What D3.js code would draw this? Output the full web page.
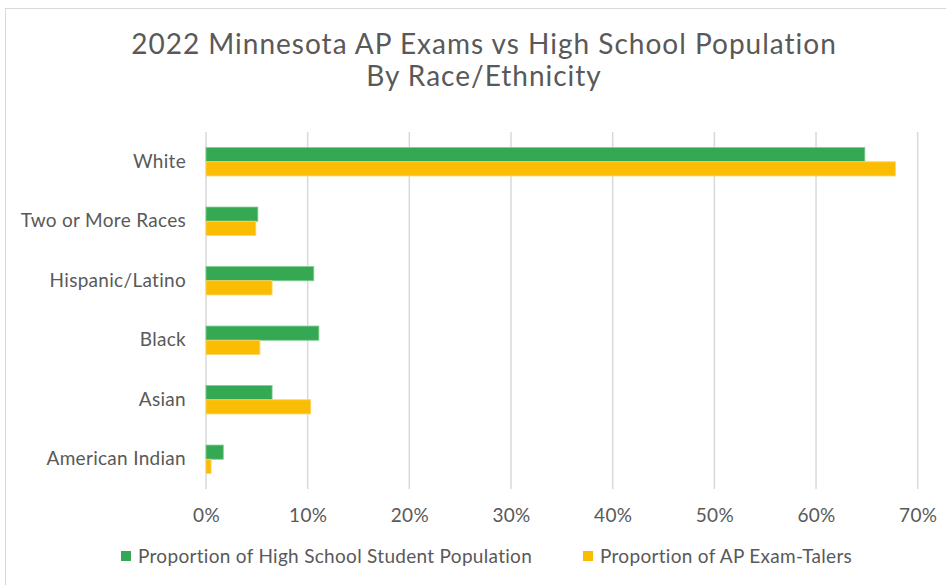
<!DOCTYPE html>
<html>
<head>
<meta charset="utf-8">
<script src="https://cdn.jsdelivr.net/npm/d3@7"></script>
<style>
  body { margin: 0; background: #fff; }
  svg text { font-family: Lato, "Open Sans", sans-serif; fill: #595959; }
</style>
</head>
<body>
<div id="chart"></div>
<script>
// categories, top to bottom
const categories = ['White', 'Two or More Races', 'Hispanic/Latino', 'Black', 'Asian', 'American Indian']
// percent values
const hsPopulation = [64.8, 5.1, 10.6, 11.1, 6.5, 1.7]
const apTakers = [67.8, 4.9, 6.5, 5.3, 10.3, 0.5]
const xTicks = [0, 10, 20, 30, 40, 50, 60, 70]
const seriesNames = ['Proportion of High School Student Population', 'Proportion of AP Exam-Talers']
const colors = ['#34a853', '#fbbc04']
const strokes = ['#7fcb92', '#fdd55f']

const W = 946, H = 585
const svg = d3.select('#chart').append('svg')
  .attr('width', W)
  .attr('height', H)

// рамка
svg.append('rect')
  .attr('x', 5.5).attr('y', 8.5)
  .attr('width', W + 10).attr('height', H + 10)
  .attr('fill', 'none').attr('stroke', '#d9d9d9')

// title
const title = svg.append('text')
  .attr('x', 484).attr('y', 54)
  .attr('text-anchor', 'middle')
  .style('font-size', '28px')
  .style('letter-spacing', '1px')
title.append('tspan').attr('x', 484).text('2022 Minnesota AP Exams vs High School Population')
title.append('tspan').attr('x', 484).attr('dy', 32).text('By Race/Ethnicity')

const x = d3.scaleLinear().domain([0, 70]).range([206, 917.7])
const y = d3.scaleBand().domain(categories).range([132, 489])
const inner = d3.scaleBand().domain([0, 1]).range([0, 28.4])
const barOffset = (y.bandwidth() - 28.4) / 2

// gridlines
svg.append('g').selectAll('line')
  .data(xTicks)
  .join('line')
  .attr('x1', d => x(d)).attr('x2', d => x(d))
  .attr('y1', 132).attr('y2', 489)
  .attr('stroke', '#d9d9d9').attr('stroke-width', 1.5)

// x axis labels
const xAxis = svg.append('g')
  .attr('transform', 'translate(0,489)')
  .call(d3.axisBottom(x).tickValues(xTicks).tickFormat(d => d + '%').tickSize(0).tickPadding(20))
xAxis.select('.domain').remove()
xAxis.selectAll('text').style('font-size', '19px').style('letter-spacing', '0.3px').attr('fill', '#595959')

// y axis labels
const yAxis = svg.append('g')
  .attr('transform', 'translate(186,0)')
  .call(d3.axisLeft(y).tickSize(0).tickPadding(0))
yAxis.select('.domain').remove()
yAxis.selectAll('text').style('font-size', '19px').style('letter-spacing', '0.3px').attr('fill', '#595959')

// bars
const series = [hsPopulation, apTakers]
series.forEach((vals, s) => {
  svg.append('g').selectAll('rect')
    .data(vals)
    .join('rect')
    .attr('x', x(0))
    .attr('y', (d, i) => y(categories[i]) + barOffset + inner(s))
    .attr('width', d => x(d) - x(0))
    .attr('height', inner.bandwidth())
    .attr('fill', colors[s])
    .attr('stroke', strokes[s])
    .attr('stroke-width', 0.8)
})

// legend
const legendX = [121, 583]
const legend = svg.append('g')
seriesNames.forEach((name, s) => {
  legend.append('rect')
    .attr('x', legendX[s]).attr('y', 551)
    .attr('width', 10).attr('height', 10)
    .attr('fill', colors[s])
  legend.append('text')
    .attr('x', legendX[s] + 17).attr('y', 563)
    .style('font-size', '19px')
    .style('letter-spacing', '0.3px')
    .text(name)
})
</script>
</body>
</html>
